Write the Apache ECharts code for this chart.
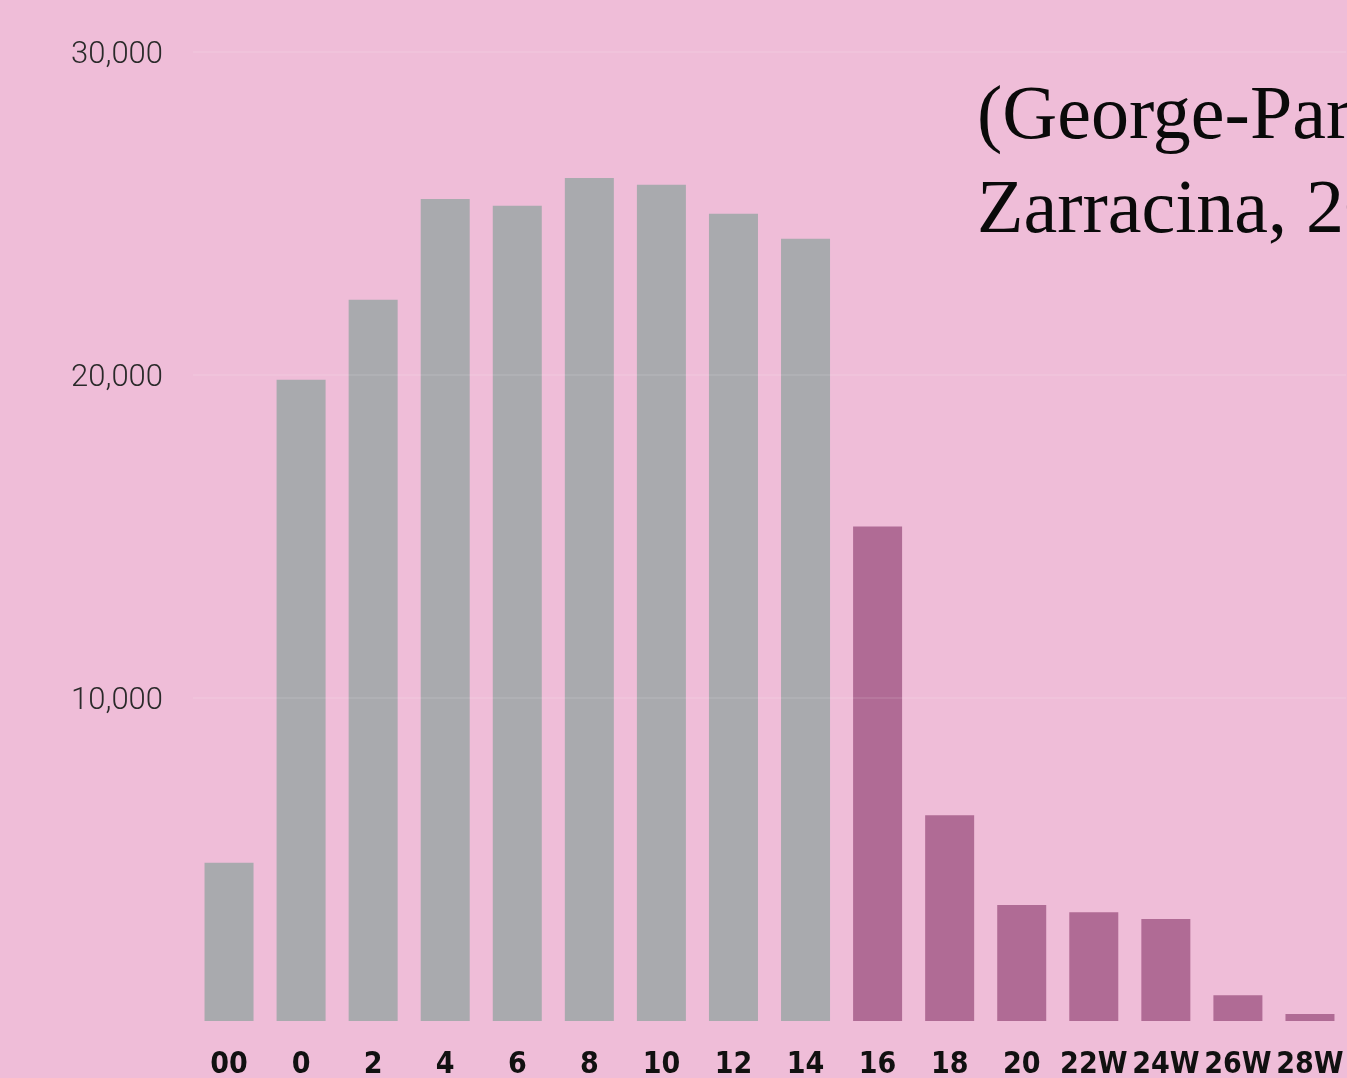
<!DOCTYPE html>
<html>
<head>
<meta charset="utf-8">
<script src="https://cdn.jsdelivr.net/npm/echarts@6/dist/echarts.min.js"></script>
<style>
html,body{margin:0;padding:0;background:#efbdd8;}
#chart{width:1347px;height:1078px;}
</style>
</head>
<body>
<div id="chart"></div>
<script>
const categories = ['00','0','2','4','6','8','10','12','14','16','18','20','22W','24W','26W','28W'];
const values = [4900, 19850, 22330, 25450, 25240, 26100, 25890, 24990, 24220, 15310, 6370, 3590, 3370, 3155, 800, 215];
const highlightFrom = 9; // index of '16' onward in the darker pink
const yTicks = [0, 10000, 20000, 30000];
const titleText = '(George-Parker\nZarracina, 2016)';

const GREY = '#a9aaae';
const PINK = '#b06b95';

const chart = echarts.init(document.getElementById('chart'), null, {renderer: 'canvas'});
chart.setOption({
  backgroundColor: '#efbdd8',
  animation: false,
  title: {
    text: titleText,
    left: 972,
    top: 66,
    textStyle: {
      fontFamily: 'Liberation Serif',
      fontWeight: 'normal',
      fontSize: 76,
      lineHeight: 94,
      color: '#0a0a0a'
    }
  },
  grid: {left: 193, right: 1, top: 52, bottom: 57, containLabel: false, outerBoundsMode: 'none'},
  xAxis: {
    type: 'category',
    data: categories,
    axisLine: {show: false},
    axisTick: {show: false},
    axisLabel: {
      margin: 29,
      interval: 0,
      hideOverlap: false,
      fontFamily: '"DejaVu Sans Condensed", "Roboto Condensed", Roboto, sans-serif',
      fontWeight: 'bold',
      fontSize: 30,
      color: '#111'
    }
  },
  yAxis: {
    type: 'value',
    min: yTicks[0],
    max: yTicks[yTicks.length - 1],
    interval: 10000,
    axisLine: {show: false},
    axisTick: {show: false},
    splitLine: {show: false},
    axisLabel: {
      margin: 30,
      formatter: v => v === 0 ? '' : '{t|' + v.toLocaleString('en-US') + '}',
      rich: {
        t: {
          fontFamily: 'Roboto, sans-serif',
          fontWeight: 300,
          fontSize: 31,
          color: '#2a2a2a',
          padding: [7, 0, 0, 0]
        }
      }
    }
  },
  series: [{
    type: 'bar',
    barWidth: '68%',
    data: values.map((v, i) => ({value: v, itemStyle: {color: i >= highlightFrom ? PINK : GREY}})),
    markLine: {
      silent: true,
      symbol: 'none',
      label: {show: false},
      lineStyle: {color: 'rgba(255,255,255,0.09)', type: 'solid', width: 2},
      data: yTicks.slice(1).map(v => ({yAxis: v}))
    }
  }]
});
</script>
</body>
</html>
